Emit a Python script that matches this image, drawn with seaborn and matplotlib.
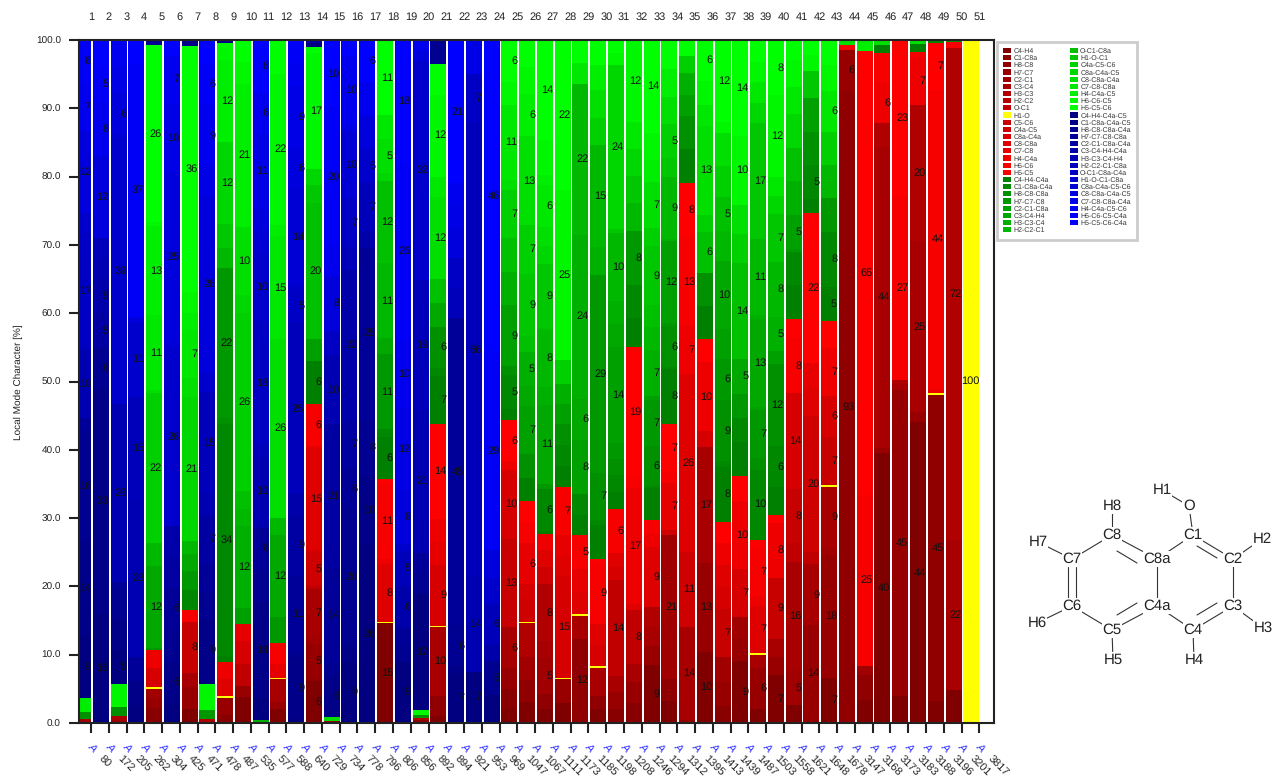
import numpy as np
import pandas as pd
import matplotlib
matplotlib.use('Agg')
import matplotlib.pyplot as plt
from matplotlib.patches import Patch
import seaborn as sns

#Data
red_modes = ['C4-H4', 'C1-C8a', 'H8-C8', 'H7-C7', 'C2-C1', 'C3-C4', 'H3-C3', 'H2-C2', 'O-C1', 'H1-O',
             'C5-C6', 'C4a-C5', 'C8a-C4a', 'C8-C8a', 'C7-C8', 'H4-C4a', 'H6-C6', 'H5-C5']
green_modes = ['C4-H4-C4a', 'C1-C8a-C4a', 'H8-C8-C8a', 'H7-C7-C8', 'C2-C1-C8a', 'C3-C4-H4', 'H3-C3-C4', 'H2-C2-C1',
               'O-C1-C8a', 'H1-O-C1', 'C4a-C5-C6', 'C8a-C4a-C5', 'C8-C8a-C4a', 'C7-C8-C8a', 'H4-C4a-C5', 'H6-C6-C5', 'H5-C5-C6']
blue_modes = ['C4-H4-C4a-C5', 'C1-C8a-C4a-C5', 'H8-C8-C8a-C4a', 'H7-C7-C8-C8a', 'C2-C1-C8a-C4a', 'C3-C4-H4-C4a',
              'H3-C3-C4-H4', 'H2-C2-C1-C8a', 'O-C1-C8a-C4a', 'H1-O-C1-C8a', 'C8a-C4a-C5-C6', 'C8-C8a-C4a-C5',
              'C7-C8-C8a-C4a', 'H4-C4a-C5-C6', 'H6-C6-C5-C4a', 'H5-C5-C6-C4a']
frequencies = [80, 172, 205, 262, 304, 425, 471, 478, 487, 535, 577, 588, 640, 729, 734, 778, 796, 806, 856, 892,
               894, 921, 953, 969, 1047, 1067, 1111, 1173, 1185, 1198, 1208, 1246, 1294, 1312, 1395, 1413, 1439,
               1487, 1503, 1558, 1621, 1648, 1678, 3147, 3168, 3173, 3183, 3188, 3196, 3201, 3817]

# each bar: (index of the mode in red+green+blue, percent), bottom to top
bar_01 = [(4,.6),(20,1),(32,2.1),(35,9),(36,14),(37,16),(38,2),(41,10),(43,17),(44,3),(46,12),(48,7),(49,6.3)]
bar_02 = [(35,16),(36,33),(37,5.9),(39,5),(40,5),(41,3),(42,3),(46,12),(48,8),(49,5),(50,4)]
bar_03 = [(1,.3),(5,.7),(20,1.3),(33,3.4),(35,5),(36,4.5),(37,4.5),(38,1),(41,26),(44,39),(45,.5),(46,6),(47,4),(48,3.8)]
bar_04 = [(24,.2),(35,2.5),(36,3.5),(38,3.5),(41,23),(42,15),(44,11),(46,.8),(49,37),(50,3.5)]
bar_05 = [(1,2.2),(3,1.3),(4,1.5),(9,.3),(12,2.7),(15,2.7),(21,.3),(23,12),(25,3.3),(28,22),(30,.4),(31,11),(32,13),(33,.6),(34,26),(37,.7)]
bar_06 = [(35,3),(36,6),(37,4.8),(38,6),(39,4.5),(40,4.6),(44,26),(45,.8),(46,25),(47,10),(48,7),(50,2.3)]
bar_07 = [(0,2),(3,3.3),(5,2),(10,7.5),(16,1.7),(19,3),(21,2.7),(23,2.5),(25,2),(29,21),(30,2.8),(31,7),(32,2.5),(33,3.1),(34,36),(36,.9)]
bar_08 = [(6,.6),(21,1.3),(33,3.8),(35,.5),(36,9),(37,4),(38,4.2),(39,7),(41,3.1),(42,15),(44,2.8),(46,26),(47,4.2),(48,9),(49,6),(50,3.5)]
bar_09 = [(1,1.2),(3,2.5),(9,.2),(13,2.5),(15,2.5),(18,.9),(19,34),(20,.8),(21,22),(25,3),(27,3.5),(29,12),(32,12),(33,2.5),(36,.4)]
bar_10 = [(0,3.8),(3,1.6),(8,3.3),(12,3.3),(14,2.5),(22,2.3),(24,12),(25,2.6),(26,2.6),(28,26),(29,2.6),(30,10),(32,21),(33,3.2),(34,3.2)]
bar_11 = [(24,.5),(35,3.2),(36,14),(37,4.9),(38,6),(40,.4),(41,10),(42,1.8),(43,18),(44,10),(45,3.2),(46,3.3),(47,11),(48,6),(50,7.7)]
bar_12 = [(0,2),(3,1),(5,3.4),(9,.2),(14,2),(16,3),(21,3.8),(23,12),(25,2.5),(30,26),(31,15),(32,1.7),(33,22),(34,4.9)]
bar_13 = [(35,.6),(36,9),(37,.9),(38,11),(39,9),(40,3),(42,25),(43,5),(44,.7),(45,14),(46,6),(47,9),(48,3.4),(49,3.4)]
bar_14 = [(0,6.2),(2,.3),(3,5),(4,1.1),(5,7),(8,.4),(11,5),(12,.3),(13,15),(14,.2),(16,6.2),(18,6.3),(22,3.2),(26,20),(27,2.5),(29,2.4),(33,17),(34,.9),(35,.5),(38,.5)]
bar_15 = [(2,.3),(30,.6),(35,.1),(36,6),(37,1.7),(38,14),(39,21),(41,10),(43,3.6),(46,8),(48,4.5),(49,20),(50,10)]
bar_16 = [(35,9),(36,2.3),(37,20),(38,6),(39,7),(40,22),(42,3.4),(43,7),(45,10),(47,1),(48,10),(50,2.3)]
bar_17 = [(35,26.2),(36,10),(37,8.4),(38,25),(40,2.5),(42,7),(44,5),(46,4.9),(48,4.9),(50,6.2)]
bar_18 = [(0,14.6),(9,.2),(13,8.5),(15,.7),(16,11),(17,.7),(18,6.2),(19,1.1),(21,11),(23,2.3),(25,11),(26,12),(29,1.2),(30,5),(31,3.5),(34,10.8),(38,.2)]
bar_19 = [(35,9),(37,2.5),(38,2.5),(40,6),(41,.3),(42,5),(44,.9),(46,8),(47,12),(48,10),(49,26),(50,18)]
bar_20 = [(2,.5),(6,.3),(20,.3),(33,.8),(35,17),(37,3),(38,3),(41,21),(42,19),(44,32),(46,1.6),(48,1.5)]
bar_21 = [(0,1),(2,3),(5,10),(9,.2),(12,9),(14,3.3),(15,3.3),(17,14),(18,7),(19,1.2),(20,6),(23,3.5),(26,3.5),(30,12),(31,3),(33,12),(34,4.5),(37,3.5)]
bar_22 = [(35,7.3),(36,1),(37,6),(38,45),(42,4.4),(43,4.4),(46,4.4),(47,4),(48,2.5),(50,21)]
bar_23 = [(35,7.4),(41,14),(42,66),(43,7.2),(47,4.9)]
bar_24 = [(35,4.1),(37,5),(40,2.4),(42,6),(44,3.9),(46,4.1),(49,29),(50,46)]
bar_25 = [(0,2),(1,3),(3,3),(5,6),(10,13),(12,10),(15,1.3),(17,6),(18,1.7),(19,5),(20,1.2),(22,9),(24,4.9),(26,4.9),(28,7),(30,1.5),(31,11),(33,3.3),(34,6.2)]
bar_26 = [(0,3),(2,3.3),(4,3.3),(6,4.9),(9,.2),(11,3.3),(12,2.1),(14,6),(16,3.1),(17,3),(18,3.4),(20,3.4),(22,7),(23,2.9),(24,5),(26,2.3),(27,9),(28,7),(30,13),(32,6),(33,4),(34,3.9)]
bar_27 = [(0,2),(2,2.1),(4,5),(5,2.4),(6,8),(11,2.4),(13,2.4),(15,2.3),(18,.3),(19,6),(21,.7),(23,11),(24,2.6),(25,8),(26,.3),(27,9),(29,2.5),(30,2.6),(31,6),(32,1.4),(33,4.9),(34,14)]
bar_28 = [(0,3),(3,3.4),(9,.2),(12,15),(13,3),(14,3.1),(16,7),(18,3.1),(19,3.1),(20,3),(22,3),(24,3),(28,3.5),(33,25),(34,22)]
bar_29 = [(1,.3),(2,12),(5,3.4),(9,.2),(13,3.3),(14,3.3),(16,5),(18,3),(19,3),(22,8),(23,6),(24,24),(25,22),(31,3.2),(34,3.3)]
bar_30 = [(0,2),(2,2),(5,4.1),(9,.2),(12,3.1),(13,3.1),(16,9),(17,.6),(18,4.9),(19,.7),(20,7),(21,29),(24,4),(25,15),(28,4),(30,4),(32,3.7),(34,3.7)]
bar_31 = [(1,2),(3,2.5),(5,2.4),(8,14),(12,2),(13,2),(16,6.4),(18,2.5),(19,2.5),(20,2.4),(21,2.3),(22,14),(23,3.4),(24,3.4),(25,10),(27,.5),(29,24),(33,1.8),(34,1.9)]
bar_32 = [(1,3),(3,3),(5,2.6),(8,8),(13,.8),(15,17),(16,1.6),(17,19),(18,4.3),(19,4.8),(21,8),(25,4),(27,4),(29,4),(31,3.9),(33,12)]
bar_33 = [(0,8.8),(3,2.9),(5,3),(6,2.9),(13,9),(15,2),(16,2),(18,4.9),(19,.3),(20,6),(21,7),(22,.6),(24,7),(25,3.4),(26,3.3),(27,9),(28,2.7),(30,7),(32,3.2),(33,4.2),(34,14)]
bar_34 = [(0,3.2),(2,3.3),(4,21),(11,.7),(14,7),(16,1.6),(17,7),(18,8),(19,.3),(20,6),(21,.5),(22,12),(24,.3),(25,9),(27,2.8),(28,5),(30,4),(32,4),(34,4.3)]
bar_35 = [(3,.5),(5,13.6),(11,11),(13,26),(15,7),(16,13),(17,8),(18,4.9),(20,4.9),(22,3),(24,3.2),(28,2.6),(34,2.3)]
bar_36 = [(0,10.4),(3,13),(5,17),(12,2.3),(15,10),(17,3.4),(18,4.9),(20,4.8),(26,6),(28,2.5),(30,13),(31,3),(33,3.5),(34,6)]
bar_37 = [(1,2.5),(3,3.5),(4,3.7),(10,7),(12,3.2),(13,3.2),(15,3.2),(17,3.2),(18,8),(19,.8),(20,9),(21,6),(22,4.4),(23,10),(25,4.3),(26,5),(28,4.5),(30,4.9),(33,1.6),(34,12)]
bar_38 = [(0,9),(3,3.2),(4,3.2),(12,7),(15,10),(17,3.6),(18,4.9),(19,3.5),(21,3.6),(23,5),(26,14),(28,4.3),(30,4.2),(33,10),(34,14)]
bar_39 = [(0,2.1),(3,6),(5,1.9),(9,.2),(13,7),(15,1.4),(16,7),(17,1.2),(18,.2),(19,10),(20,1.8),(21,7),(22,.4),(23,13),(24,.6),(25,11),(27,17),(29,3),(31,3),(33,3),(34,3.2)]
bar_40 = [(0,7),(3,2.6),(5,2.7),(10,9),(15,8),(17,1.1),(18,4.1),(19,6),(20,12),(22,2),(24,5),(25,8),(27,7),(29,2.7),(31,2.7),(33,12),(34,8.1)]
bar_41 = [(0,2.6),(4,5),(5,16),(8,2.7),(10,8),(12,14),(16,8),(17,2.9),(18,4.9),(19,4.9),(21,.4),(22,5),(24,4.9),(26,4.9),(29,4.9),(31,4),(33,4),(34,2.9)]
bar_42 = [(2,.3),(3,14),(5,9),(8,1.7),(11,20),(13,4),(14,3.7),(17,22),(18,2),(19,5),(20,4.9),(22,4.9),(27,4),(33,2.3),(34,2.2)]
bar_43 = [(0,6.6),(3,18),(4,1),(5,9),(9,.3),(10,7),(12,6),(15,7),(17,4),(18,5),(19,8),(21,4.9),(25,4.9),(28,4.9),(31,6),(33,3.7),(34,3.7)]
bar_44 = [(2,92.6),(3,6),(16,.6),(30,.8)]
bar_45 = [(0,3.4),(2,3.7),(4,1.3),(16,25),(17,65),(32,1.6)]
bar_46 = [(0,39.5),(3,.8),(5,44),(6,3.5),(15,6),(16,4.3),(18,1.2),(30,.7)]
bar_47 = [(0,3.9),(3,45),(5,1),(6,.5),(16,27),(17,23)]
bar_48 = [(0,44),(3,1.5),(5,25),(6,20),(15,7),(16,.7),(18,1.2),(30,.6)]
bar_49 = [(0,3.3),(2,45),(9,.3),(15,.6),(16,44),(17,7),(19,.4)]
bar_50 = [(0,4.8),(5,22),(6,72),(16,.9),(20,.3)]
bar_51 = [(9,100)]
all_bars = [bar_01, bar_02, bar_03, bar_04, bar_05, bar_06, bar_07, bar_08, bar_09, bar_10,
            bar_11, bar_12, bar_13, bar_14, bar_15, bar_16, bar_17, bar_18, bar_19, bar_20,
            bar_21, bar_22, bar_23, bar_24, bar_25, bar_26, bar_27, bar_28, bar_29, bar_30,
            bar_31, bar_32, bar_33, bar_34, bar_35, bar_36, bar_37, bar_38, bar_39, bar_40,
            bar_41, bar_42, bar_43, bar_44, bar_45, bar_46, bar_47, bar_48, bar_49, bar_50, bar_51]

#Molecule inset
atoms = {'O': (1189, 506), 'H1': (1162, 490), 'C1': (1193, 535), 'C2': (1233, 559), 'H2': (1262, 539), 'C3': (1233, 606),
         'H3': (1263, 628), 'C4': (1193, 630), 'H4': (1194, 660), 'C4a': (1157, 606), 'C5': (1112, 630), 'H5': (1113, 660),
         'C6': (1072, 606), 'H6': (1037, 623), 'C7': (1072, 559), 'H7': (1038, 542), 'C8': (1112, 535), 'H8': (1112, 506),
         'C8a': (1157, 559)}
bonds = [('H1', 'O'), ('O', 'C1'), ('C1', 'C2'), ('C2', 'H2'), ('C2', 'C3'), ('C3', 'H3'), ('C3', 'C4'), ('C4', 'H4'),
         ('C4', 'C4a'), ('C4a', 'C8a'), ('C8a', 'C1'), ('C4a', 'C5'), ('C5', 'H5'), ('C5', 'C6'), ('C6', 'H6'),
         ('C7', 'H7'), ('C7', 'C8'), ('C8', 'H8'), ('C8', 'C8a')]
inner_bonds = [((1197, 546), (1217, 558)), ((1197, 615), (1217, 603)), ((1117, 615), (1137, 603)), ((1117, 551), (1137, 563))]
c6c7_bonds = [((1067.5, 567), (1067.5, 598)), ((1076, 567), (1076, 598))]

#Build table
modes = red_modes + green_modes + blue_modes
rows = []
for n, bar in enumerate(all_bars, start=1):
    total = sum(p for _, p in bar)
    for m, p in bar:
        rows.append({'bar': n, 'mode_id': m, 'mode': modes[m], 'raw': p, 'pct': p * 100 / total})
df = pd.DataFrame(rows)

palette = {}
red_levels = np.linspace(128, 255, 17) / 255
red_names = [m for m in red_modes if m != 'H1-O']
for name, v in zip(red_names, red_levels):
    palette[name] = (v, 0, 0)
palette['H1-O'] = (1, 1, 0)
for name, v in zip(green_modes, np.linspace(128, 255, 17) / 255):
    palette[name] = (0, v, 0)
for name, v in zip(blue_modes, np.linspace(128, 255, 16) / 255):
    palette[name] = (0, 0, v)

#Plot
sns.set_style('ticks')
plt.rcParams['font.family'] = ['Liberation Sans', 'DejaVu Sans']
plt.rcParams['text.hinting'] = 'no_hinting'
plt.rcParams['text.hinting_factor'] = 1
txt_size = 7.7

fig = plt.figure(figsize=(12.72, 7.77), dpi=100)
ax = fig.add_axes([79 / 1272, (777 - 723) / 777, 915 / 1272, 683 / 777])

sns.histplot(
    data=df,
    x='bar',
    weights='pct',
    hue='mode',
    hue_order=modes[::-1],
    palette=palette,
    multiple='stack',
    discrete=True,
    shrink=0.9,
    linewidth=0,
    alpha=1,
    legend=False,
    ax=ax
)

tick_shift = 0.45
ticks = np.arange(1, 52) + tick_shift
ax.set_xlim(0.775, 52.277)
ax.set_ylim(0, 100)
ax.set_xticks(ticks)
ax.set_xticklabels([])
ax.set_yticks(np.arange(0, 101, 10))
ax.set_yticklabels([f'{v:.1f}' for v in np.arange(0, 101, 10)], fontsize=7.3, color='#222222')
ax.tick_params(axis='both', length=7, width=1.5, color='#222222', pad=6)
ax.set_xlabel('')
ax.set_ylabel('')
for s in ax.spines.values():
    s.set_visible(True)
    s.set_linewidth(1.5)
    s.set_color('#222222')

# percent labels, right aligned on the tick
for n, group in df.groupby('bar'):
    group = group.sort_values('mode_id')
    tops = group['pct'].cumsum().values
    for top, pct, raw in zip(tops, group['pct'].values, group['raw'].values):
        if raw >= 5:
            ax.text(n + tick_shift, top - pct / 2, f'{raw:.0f}', ha='right', va='center',
                    fontsize=txt_size, color='#111111')

for n, t in enumerate(ticks, start=1):
    ax.annotate(str(n), xy=(t, 1), xycoords=('data', 'axes fraction'), xytext=(0, 23),
                textcoords='offset pixels', ha='center', va='center', fontsize=txt_size, color='#222222')
    ax.annotate('A', xy=(t, 0), xycoords=('data', 'axes fraction'), xytext=(1, -25),
                textcoords='offset pixels', ha='center', va='center', rotation=-45,
                fontsize=8, color='#2a2aff', style='italic')
    ax.annotate(str(frequencies[n - 1]), xy=(t, 0), xycoords=('data', 'axes fraction'), xytext=(10, -34),
                textcoords='offset pixels', ha='left', va='center', rotation=-45, rotation_mode='anchor',
                fontsize=txt_size, color='#222222')

fig.text(18 / 1272, 1 - 382 / 777, 'Local Mode Character [%]', rotation=90, ha='center', va='center',
         fontsize=7.3, color='#222222')

handles = [Patch(facecolor=palette[m], edgecolor='none', label=m) for m in modes]
leg = fig.legend(
    handles=handles,
    ncol=2,
    loc='upper left',
    bbox_to_anchor=(997 / 1272, 1 - 42 / 777),
    bbox_transform=fig.transFigure,
    fontsize=5.3,
    frameon=True,
    fancybox=False,
    borderaxespad=0,
    borderpad=0.8,
    handlelength=1.08,
    handleheight=0.72,
    handletextpad=0.35,
    labelspacing=0.07,
    columnspacing=2.3,
    labelcolor='#333333'
)
leg.get_frame().set_edgecolor('#cccccc')
leg.get_frame().set_linewidth(2)
leg.get_frame().set_alpha(1)

#Molecule
mol_ax = fig.add_axes([0, 0, 1, 1])
mol_ax.set_xlim(0, 1272)
mol_ax.set_ylim(777, 0)
mol_ax.axis('off')
mol_ax.patch.set_alpha(0)
line_color = '#333333'
for a, b in bonds:
    mol_ax.plot([atoms[a][0], atoms[b][0]], [atoms[a][1], atoms[b][1]], color=line_color, lw=0.8, zorder=1)
for p, q in inner_bonds + c6c7_bonds:
    mol_ax.plot([p[0], q[0]], [p[1], q[1]], color=line_color, lw=0.8, zorder=1)
for name, (x, y) in atoms.items():
    mol_ax.text(x, y, name, ha='center', va='center', fontsize=10.5, color='#222222', zorder=2,
                bbox=dict(facecolor='white', edgecolor='none', pad=0.5))

plt.savefig('out.png', dpi=100)
